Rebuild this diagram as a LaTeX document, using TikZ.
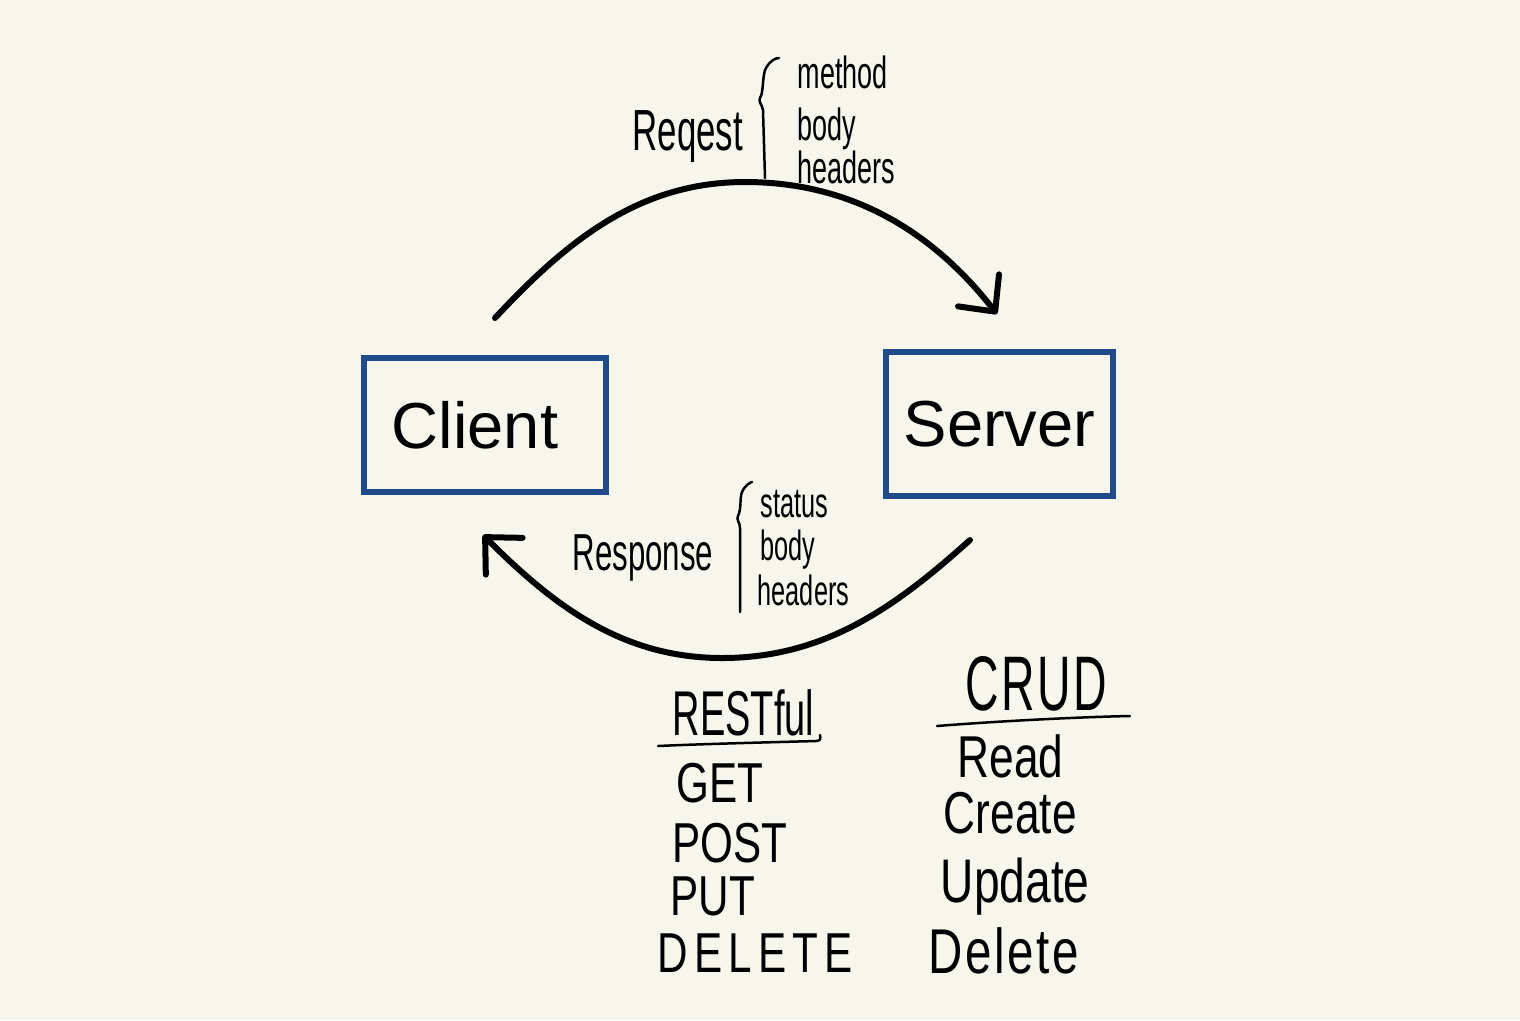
\documentclass[tikz,border=0pt]{standalone}
\usepackage{fontspec}
\setmainfont{Liberation Sans}
\newfontfamily\handn[FakeStretch=0.6]{Liberation Sans}
\newfontfamily\handw[FakeStretch=0.75]{Liberation Sans}
\usetikzlibrary{arrows.meta}
\definecolor{bg}{RGB}{246,246,236}
\definecolor{boxblue}{RGB}{31,74,140}
\begin{document}
\begin{tikzpicture}[x=0.01cm,y=-0.01cm,
  box/.style={draw=boxblue, line width=0.06cm, inner sep=0pt,
    font=\fontsize{18.5}{20}\selectfont},
  flow/.style={line width=0.06cm, line cap=round,
    -{Straight Barb[length=2.7mm,width=5.2mm,line cap=round,line join=round]}},
  pen/.style={line width=0.025cm, line cap=round, line join=round},
  hn/.style={anchor=base west, inner sep=0pt, font=\handn\fontsize{#1}{#1}\selectfont},
  hw/.style={anchor=base west, inner sep=0pt, font=\handw\fontsize{#1}{#1}\selectfont},
  spaced/.style={font=\handw\addfontfeatures{LetterSpace=#1}\fontsize{16}{16}\selectfont}
]
\fill[bg] (0,0) rectangle (1520,1020);
\useasboundingbox (0,0) rectangle (1520,1020);

% boxes
\node[box, minimum width=2.42cm, minimum height=1.34cm] (client) at (485,425) {Client\hspace*{0.2cm}};
\node[box, minimum width=2.27cm, minimum height=1.44cm] (server) at (999.5,424) {Server};

% connector end points
\coordinate (reqS) at (495,318);
\coordinate (reqTop) at (745,182);
\coordinate (reqE) at (997,314);
\coordinate (resS) at (970,540);
\coordinate (resBot) at (722,658);
\coordinate (resE) at (483,535);

\draw[flow] (reqS) to[out=47,in=180,looseness=0.95] (reqTop) to[out=0,in=128,looseness=0.95] (reqE);
\draw[flow] (resS) to[out=222,in=0,looseness=0.95] (resBot) to[out=180,in=-45,looseness=0.95] (resE);

% Request annotation
\node[hn=16.5] (req) at (632,150) {Reqest};
\draw[pen] (765,178) -- (763,110) .. controls (762,104) and (758,102) .. (760,98)
  .. controls (764,92) and (762,75) .. (766,68) .. controls (770,61) and (775,58) .. (779,58);
\node[hn=12.8] (rm) at (797,88) {method};
\node[hn=12.8] (rb) at (797,140) {body};
\node[hn=12.8] (rh) at (797,183) {headers};

% Response annotation
\node[hn=14.8] (res) at (572,570) {Response};
\draw[pen] (740,612) -- (740,528) .. controls (740,522) and (736,520) .. (738,516)
  .. controls (742,508) and (739,496) .. (743,490) .. controls (746,485) and (749,483) .. (752,482);
\node[hn=12] (ss) at (760,517) {status};
\node[hn=12] (sb) at (760,560) {body};
\node[hn=12] (sh) at (757,605) {headers};

% RESTful list
\node[hn=18] (rest) at (672,735) {RESTful};
\draw[pen] (658,746) .. controls (700,744) and (780,742) .. (816,741) .. controls (820,741) and (821,739) .. (820,735);
\node[hw=16] (get) at (676,802) {GET};
\node[hw=16] (post) at (672,862) {POST};
\node[hw=16] (put) at (670,915) {PUT};
\node[hw=16, spaced=11] (del) at (657,972) {DELETE};

% CRUD list
\node[hn=22, font=\handn\addfontfeatures{LetterSpace=3}\fontsize{22}{22}\selectfont] (crud) at (965,710) {CRUD};
\draw[pen] (937,726) .. controls (1000,721) and (1080,717) .. (1130,716);
\node[hw=16.8] (read) at (957,777) {Read};
\node[hw=16.8] (create) at (943,833) {Create};
\node[hw=17.5] (update) at (940,902) {Update};
\node[hw=18, font=\handw\addfontfeatures{LetterSpace=4}\fontsize{18}{18}\selectfont] (delete) at (928,973) {Delete};
\end{tikzpicture}
\end{document}
